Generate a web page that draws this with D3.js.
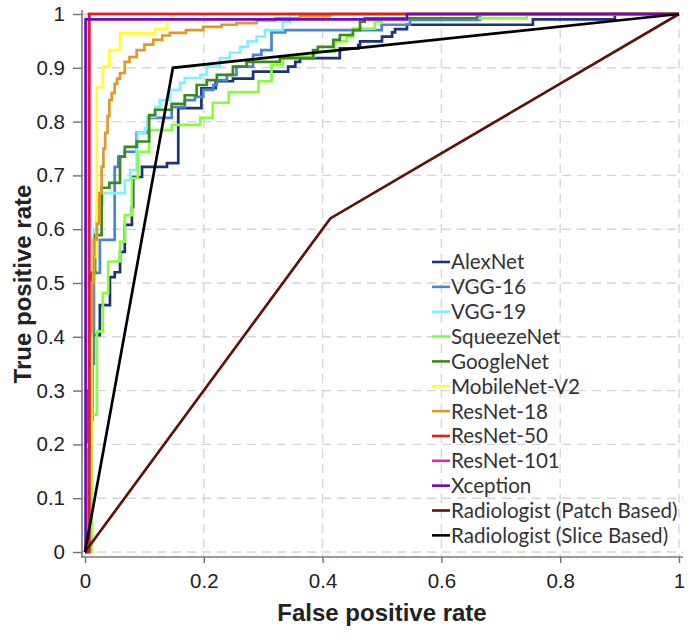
<!DOCTYPE html>
<html>
<head>
<meta charset="utf-8">
<script src="https://cdn.jsdelivr.net/npm/d3@7"></script>
<style>
  html, body { margin: 0; padding: 0; background: #fff; }
  svg { display: block; }
</style>
</head>
<body>
<svg id="chart" width="688" height="634"></svg>
<script>
// ---------------- data ----------------
const seriesNames = ["AlexNet", "VGG-16", "VGG-19", "SqueezeNet", "GoogleNet", "MobileNet-V2",
  "ResNet-18", "ResNet-50", "ResNet-101", "Xception", "Radiologist (Patch Based)", "Radiologist (Slice Based)"];
const seriesColors = ["#1c327c", "#4a82dc", "#7ff2ff", "#86ff38", "#3b8a1c", "#ffff30",
  "#dc9a2a", "#e21e1e", "#e020c8", "#6c0cc0", "#5a140e", "#000000"];

// ROC points [fpr, tpr]; step curves rise at the given fpr
const alexnet = [[0,0],[0.003,0.10],[0.006,0.245],[0.012,0.403],[0.025,0.459],[0.042,0.511],[0.050,0.52],[0.059,0.558],[0.067,0.608],[0.079,0.641],[0.081,0.697],[0.096,0.716],[0.138,0.723],[0.157,0.825],[0.196,0.862],[0.22,0.875],[0.249,0.880],[0.283,0.893],[0.342,0.902],[0.354,0.911],[0.362,0.918],[0.429,0.936],[0.460,0.942],[0.463,0.949],[0.5,0.958],[0.517,0.966],[0.522,0.972],[0.542,0.980],[0.754,0.990],[0.892,1.0],[1,1]];
const vgg16 = [[0,0],[0.003,0.15],[0.008,0.35],[0.015,0.519],[0.025,0.58],[0.05,0.716],[0.056,0.735],[0.067,0.744],[0.087,0.779],[0.106,0.807],[0.146,0.827],[0.168,0.84],[0.185,0.846],[0.199,0.859],[0.216,0.868],[0.222,0.877],[0.239,0.887],[0.255,0.902],[0.283,0.924],[0.297,0.933],[0.314,0.966],[0.337,0.970],[0.4995,0.980],[0.547,0.989],[0.665,1.0],[1,1]];
const vgg19 = [[0,0],[0.004,0.25],[0.01,0.52],[0.015,0.6],[0.02,0.645],[0.03,0.667],[0.067,0.691],[0.076,0.71],[0.087,0.753],[0.089,0.779],[0.101,0.788],[0.106,0.809],[0.118,0.827],[0.126,0.84],[0.143,0.859],[0.16,0.872],[0.168,0.881],[0.194,0.887],[0.205,0.902],[0.227,0.918],[0.244,0.928],[0.261,0.939],[0.274,0.949],[0.289,0.958],[0.303,0.970],[0.333,0.986],[0.345,1.0],[1,1]];
const squeezenet = [[0,0],[0.011,0.255],[0.02,0.41],[0.03,0.481],[0.039,0.54],[0.059,0.577],[0.067,0.626],[0.079,0.695],[0.089,0.744],[0.108,0.784],[0.146,0.794],[0.194,0.807],[0.215,0.835],[0.242,0.855],[0.292,0.875],[0.314,0.905],[0.333,0.921],[0.387,0.930],[0.421,0.949],[0.441,0.958],[0.451,0.973],[0.488,0.986],[0.4995,0.992],[0.744,1.0],[1,1]];
const googlenet = [[0,0],[0.005,0.3],[0.01,0.519],[0.017,0.589],[0.028,0.677],[0.041,0.686],[0.059,0.735],[0.067,0.753],[0.087,0.763],[0.108,0.812],[0.118,0.822],[0.146,0.833],[0.168,0.849],[0.188,0.868],[0.205,0.877],[0.222,0.887],[0.249,0.902],[0.272,0.911],[0.328,0.918],[0.384,0.933],[0.392,0.939],[0.418,0.952],[0.429,0.961],[0.451,0.970],[0.463,0.986],[0.471,0.992],[0.66,1.0],[1,1]];
const mobilenetV2 = [[0,0],[0.004,0.2],[0.011,0.5],[0.015,0.549],[0.0197,0.864],[0.030,0.902],[0.041,0.933],[0.059,0.964],[0.118,0.972],[0.138,0.988],[0.146,1.0],[1,1]];
const resnet18 = [[0,0],[0.002,0.02],[0.005,0.19],[0.008,0.41],[0.012,0.5],[0.015,0.58],[0.020,0.61],[0.024,0.667],[0.028,0.716],[0.031,0.75],[0.034,0.779],[0.038,0.81],[0.041,0.840],[0.045,0.853],[0.050,0.87],[0.054,0.88],[0.059,0.890],[0.067,0.911],[0.075,0.92],[0.087,0.933],[0.100,0.943],[0.115,0.952],[0.13,0.96],[0.143,0.965],[0.17,0.97],[0.199,0.976],[0.23,0.98],[0.255,0.983],[0.289,0.988],[0.32,0.992],[0.362,0.996],[0.412,1.0],[1,1]];
const resnet50 = [[0,0],[0.007,1.0],[1,1]];
const resnet101 = [[0,0],[0.007,1.0],[1,1]];
const xception = [[0,0],[0.001,0.99],[0.542,1.0],[1,1]];
const radiologistPatch = [[0,0],[0.413,0.62],[1,1]];
const radiologistSlice = [[0,0],[0.148,0.90],[1,1]];

const seriesData = [alexnet, vgg16, vgg19, squeezenet, googlenet, mobilenetV2, resnet18, resnet50, resnet101, xception, radiologistPatch, radiologistSlice];
const seriesStep = [true, true, true, true, true, true, true, true, true, true, false, false];
// drawing order (ResNet-101 lies beneath ResNet-50 in the figure)
const drawOrder = [0, 1, 2, 3, 4, 5, 6, 8, 7, 9, 10, 11];

const xTicks = [0, 0.2, 0.4, 0.6, 0.8, 1];
const xTickLabels = ["0", "0.2", "0.4", "0.6", "0.8", "1"];
const yTicks = [0, 0.1, 0.2, 0.3, 0.4, 0.5, 0.6, 0.7, 0.8, 0.9, 1];
const yTickLabels = ["0", "0.1", "0.2", "0.3", "0.4", "0.5", "0.6", "0.7", "0.8", "0.9", "1"];

const xTitle = "False positive rate";
const yTitle = "True positive rate";

// ---------------- drawing ----------------
const svg = d3.select("#chart");
const x = d3.scaleLinear().domain([0, 1]).range([85, 679]);
const y = d3.scaleLinear().domain([0, 1]).range([552, 14]);

const spineX = 82, spineY = 557;

// grid
const grid = svg.append("g").attr("stroke", "#d6d6d6").attr("stroke-width", 1.4)
  .attr("stroke-dasharray", "9,6").attr("fill", "none");
grid.selectAll("line.v").data(xTicks).join("line")
  .attr("x1", d => x(d)).attr("x2", d => x(d))
  .attr("y1", y(1)).attr("y2", spineY);
grid.selectAll("line.h").data(yTicks).join("line")
  .attr("y1", d => y(d)).attr("y2", d => y(d))
  .attr("x1", spineX).attr("x2", 683);

// axes
const fontTick = "'Liberation Sans', Arial, sans-serif";
const yAxis = d3.axisLeft(y).tickValues(yTicks).tickFormat((d, i) => yTickLabels[i])
  .tickSize(9).tickPadding(8).tickSizeOuter(0);
const gy = svg.append("g").attr("transform", `translate(${spineX},0)`).call(yAxis);
gy.select(".domain").remove();
gy.selectAll(".tick line").attr("stroke", "#6e6e6e").attr("stroke-width", 1.4);
gy.selectAll(".tick text").attr("font-family", fontTick).attr("font-size", 20.5).attr("fill", "#222");

const xAxis = d3.axisBottom(x).tickValues(xTicks).tickFormat((d, i) => xTickLabels[i])
  .tickSize(6).tickPadding(10).tickSizeOuter(0);
const gx = svg.append("g").attr("transform", `translate(0,${spineY})`).call(xAxis);
gx.select(".domain").remove();
gx.selectAll(".tick line").attr("stroke", "#6e6e6e").attr("stroke-width", 1.4);
gx.selectAll(".tick text").attr("font-family", fontTick).attr("font-size", 20.5).attr("fill", "#222");

svg.append("line").attr("x1", spineX).attr("x2", spineX).attr("y1", 10).attr("y2", spineY + 0.7)
  .attr("stroke", "#7a7a7a").attr("stroke-width", 1.6);
svg.append("line").attr("x1", spineX - 0.7).attr("x2", 683).attr("y1", spineY).attr("y2", spineY)
  .attr("stroke", "#7a7a7a").attr("stroke-width", 1.6);

// curves
const stepLine = d3.line().x(d => x(d[0])).y(d => y(d[1])).curve(d3.curveStepAfter);
const straightLine = d3.line().x(d => x(d[0])).y(d => y(d[1]));
const curves = svg.append("g").attr("fill", "none");
drawOrder.forEach(i => {
  curves.append("path")
    .attr("d", seriesStep[i] ? stepLine(seriesData[i]) : straightLine(seriesData[i]))
    .attr("stroke", seriesColors[i])
    .attr("stroke-width", 2.7)
    .attr("stroke-linejoin", "miter")
    .attr("stroke-linecap", "butt");
});

// legend
const legend = svg.append("g").attr("transform", "translate(432,262)");
const rowH = 24.85;
seriesNames.forEach((name, i) => {
  const row = legend.append("g").attr("transform", `translate(0,${i * rowH})`);
  row.append("line").attr("x1", 0).attr("x2", 18).attr("y1", 0).attr("y2", 0)
    .attr("stroke", seriesColors[i]).attr("stroke-width", 2.6);
  row.append("text").attr("x", 19).attr("y", 0).attr("dy", "0.36em")
    .attr("font-family", "Lato, 'Open Sans', sans-serif").attr("font-size", 20.6)
    .attr("fill", "#333").text(name);
});

// titles
svg.append("text").attr("x", 382).attr("y", 621).attr("text-anchor", "middle")
  .attr("font-family", fontTick).attr("font-weight", "bold").attr("font-size", 24)
  .attr("fill", "#222").text(xTitle);
svg.append("text").attr("transform", "translate(31,284) rotate(-90)").attr("text-anchor", "middle")
  .attr("font-family", fontTick).attr("font-weight", "bold").attr("font-size", 24)
  .attr("fill", "#222").text(yTitle);
</script>
</body>
</html>
